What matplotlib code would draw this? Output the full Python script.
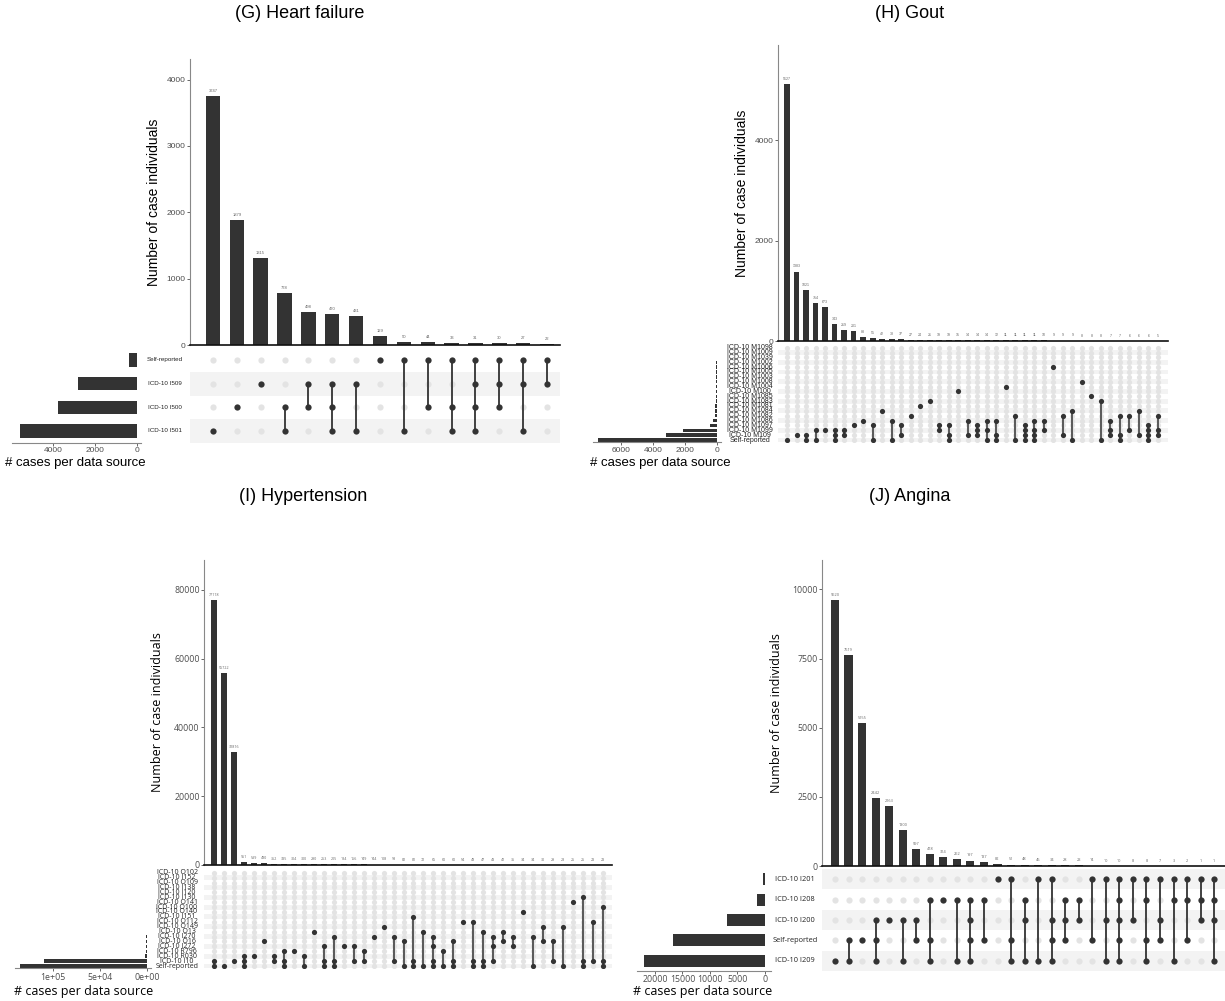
import numpy as np
import matplotlib
matplotlib.use("Agg")
import matplotlib.pyplot as plt

W, H = 1225, 1001

# ---------------- data ----------------
# (G) Heart failure
g_sets = ["ICD-10 I501", "ICD-10 I500", "ICD-10 I509", "Self-reported"]   # bottom -> top
g_set_sizes = [5570, 3760, 2820, 370]
g_counts = [3747, 1879, 1315, 778, 498, 470, 431, 129, 50, 44, 33, 31, 30, 27, 22]
g_members = [[0], [1], [2], [0, 1], [1, 2], [0, 1, 2], [0, 2], [3], [0, 3], [1, 3],
             [0, 1, 3], [0, 1, 2, 3], [1, 2, 3], [0, 2, 3], [2, 3]]

# (H) Gout
h_sets = ["Self-reported", "ICD-10 M109", "ICD-10 M1099", "ICD-10 M1097", "ICD-10 M1086",
          "ICD-10 M1082", "ICD-10 M1084", "ICD-10 M1081", "ICD-10 M1083", "ICD-10 M1085",
          "ICD-10 M100", "ICD-10 M1004", "ICD-10 M1008", "ICD-10 M1003", "ICD-10 M1005",
          "ICD-10 M1006", "ICD-10 M1002", "ICD-10 M1039", "ICD-10 M1009", "ICD-10 M1098"]
h_set_sizes = [7450, 3200, 2100, 420, 250, 120, 105, 95, 85, 75,
               68, 60, 55, 50, 45, 40, 35, 30, 28, 25]
h_counts = [5127, 1383, 1021, 754, 673, 343, 219, 201, 83, 55, 42, 38, 37, 27, 24, 21, 19, 19,
            15, 14, 14, 14, 12, 11, 11, 11, 11, 10, 9, 9, 9, 8, 8, 8, 7, 7, 6, 6, 6, 5]
h_members = [[0], [1], [0, 1], [0, 2], [2], [0, 1, 2], [1, 2], [3], [4], [0, 3],
             [6], [0, 4], [1, 3], [5], [7], [8], [2, 3], [0, 1, 3], [10], [1, 4],
             [1, 2, 3], [0, 2, 4], [0, 1, 4], [11], [0, 5], [0, 1, 2, 3], [0, 1, 2, 4], [2, 4], [15], [1, 5],
             [0, 6], [12], [9], [0, 8], [1, 2, 4], [0, 1, 5], [2, 5], [1, 6], [0, 1, 2, 3], [1, 2, 5]]

# (I) Hypertension
i_sets = ["Self-reported", "ICD-10 I10", "ICD-10 R030", "ICD-10 R796", "ICD-10 I272",
          "ICD-10 O16", "ICD-10 I270", "ICD-10 O13", "ICD-10 O149", "ICD-10 O112",
          "ICD-10 I151", "ICD-10 O140", "ICD-10 O100", "ICD-10 O141", "ICD-10 I130",
          "ICD-10 I120", "ICD-10 I138", "ICD-10 O109", "ICD-10 I152", "ICD-10 O102"]
i_set_sizes = [135500, 110000, 2150, 860, 760, 740, 640, 470, 180, 140,
               95, 60, 50, 45, 40, 35, 30, 28, 25, 22]
i_counts = [77118, 55722, 32816, 951, 539, 480, 352, 335, 304, 300, 290, 253, 205, 184, 156,
            149, 144, 108, 98, 82, 81, 72, 65, 60, 60, 54, 48, 47, 43, 42, 35, 34, 34, 30,
            29, 28, 25, 25, 23, 23]
i_members = [[0, 1], [0], [1], [0, 1, 2], [2], [5], [1, 2], [0, 1, 3], [3], [0, 2],
             [7], [0, 1, 4], [0, 1, 6], [4], [1, 4], [1, 3], [6], [8], [1, 6], [0, 5],
             [0, 1, 10], [0, 7], [0, 1, 4, 6], [0, 3], [0, 1, 5], [9], [0, 1, 9], [0, 1, 7], [1, 4, 6], [5, 7],
             [4, 6], [11], [0, 6], [5, 8], [1, 5], [0, 8], [13], [0, 1, 14], [1, 9], [0, 1, 12]]

# (J) Angina
j_sets = ["ICD-10 I209", "Self-reported", "ICD-10 I200", "ICD-10 I208", "ICD-10 I201"]
j_set_sizes = [22070, 16720, 6870, 1450, 280]
j_counts = [9620, 7619, 5155, 2442, 2163, 1300, 597, 418, 314, 262, 197, 137, 82, 51, 48,
            45, 34, 28, 23, 14, 10, 10, 8, 8, 7, 3, 2, 1, 1]
j_members = [[0], [0, 1], [1], [0, 1, 2], [2], [0, 2], [1, 2], [0, 1, 3], [3], [0, 3],
             [0, 1, 2, 3], [1, 3], [4], [0, 1, 4], [0, 2, 3], [0, 4], [0, 1, 2, 4], [1, 2, 3], [2, 3], [1, 4],
             [0, 2, 4], [0, 1, 2, 3, 4], [2, 4], [0, 1, 3, 4], [1, 2, 4], [0, 3, 4], [1, 3, 4], [2, 3, 4],
             [0, 2, 3, 4]]

DARK = "#333333"
EMPTY = "#e3e3e3"
STRIPE = "#f3f3f3"
TICK = "#4d4d4d"


def box(l, t, r, b):
    return [l / W, 1 - b / H, (r - l) / W, (b - t) / H]


def draw_upset(fig, sets, set_sizes, counts, members, p):
    font = p["font"]
    n = len(counts)
    m = len(sets)
    x = np.arange(n)

    # intersection bars
    axb = fig.add_axes(box(p["l"], p["bt"], p["r"], p["b0"]))
    axb.bar(x, counts, width=0.6, color=DARK)
    axb.set_xlim(p["xl"], p["xr"])
    axb.set_ylim(0, max(counts) * 1.15)
    axb.set_yticks(p["yticks"])
    axb.set_yticklabels([str(v) for v in p["yticks"]], fontsize=p["tfs"], color=TICK, family=font)
    axb.tick_params(axis="y", length=2, width=0.6, color=TICK, pad=1)
    axb.set_xticks([])
    for s in ["top", "right"]:
        axb.spines[s].set_visible(False)
    axb.spines["left"].set_color("#888888")
    axb.spines["left"].set_linewidth(0.8)
    axb.spines["bottom"].set_color("#111111")
    axb.spines["bottom"].set_linewidth(1.2)
    axb.set_ylabel("Number of case individuals", fontsize=p["lfs"], family=font, labelpad=p["lpad"])
    off = max(counts) * 0.012
    for xi, c in zip(x, counts):
        axb.text(xi, c + off, str(c), ha="center", va="bottom", fontsize=p["cfs"], color="#666666", family=font)

    # matrix
    sp = (p["rb"] - p["rt"]) / (m - 1)
    mt, mb = p["rt"] - sp / 2, p["rb"] + sp / 2
    axm = fig.add_axes(box(p["l"], mt, p["r"], mb))
    axm.set_xlim(p["xl"], p["xr"])
    axm.set_ylim(-0.5, m - 0.5)
    for k in range(0, m, 2):
        axm.axhspan(k - 0.5, k + 0.5, color=STRIPE, lw=0, zorder=0)
    gx, gy = np.meshgrid(x, np.arange(m))
    axm.scatter(gx.ravel(), gy.ravel(), s=p["ds"], color=EMPTY, lw=0, zorder=1)
    for xi, mem in zip(x, members):
        if len(mem) > 1:
            axm.plot([xi, xi], [min(mem), max(mem)], color=DARK, lw=p["lw"], zorder=2)
        axm.scatter([xi] * len(mem), mem, s=p["ds"], color=DARK, lw=0, zorder=3)
    axm.axis("off")

    # set sizes
    axs = fig.add_axes(box(p["sl"], mt, p["sr"], mb))
    axs.barh(np.arange(m), set_sizes, height=p["sh"], color=DARK)
    axs.set_ylim(-0.5, m - 0.5)
    axs.set_xlim(p["sxl"], p["sxr"])
    axs.set_xticks(p["sticks"])
    axs.set_xticklabels(p["slabels"], fontsize=p["tfs"], color=TICK, family=font)
    axs.tick_params(axis="x", length=2, width=0.6, color=TICK, pad=1)
    axs.set_yticks([])
    for s in ["top", "right", "left"]:
        axs.spines[s].set_visible(False)
    axs.spines["bottom"].set_color("#888888")
    axs.spines["bottom"].set_linewidth(0.8)
    axs.patch.set_alpha(0)

    for k, name in enumerate(sets):
        yk = p["rb"] - k * sp
        fig.text(p["nx"] / W, 1 - yk / H, name, ha="center", va="center",
                 fontsize=p["nfs"], family=font, color="#222222")
    fig.text(p["cx"] / W, 1 - p["cy"] / H, "# cases per data source", ha="left", va="center",
             fontsize=p["xfs"], family=font)
    fig.text(p["tx"] / W, 1 - p["ty"] / H, p["title"], ha="center", va="center",
             fontsize=13, family="Liberation Sans")


fig = plt.figure(figsize=(W / 100, H / 100), dpi=100)

draw_upset(fig, g_sets, g_set_sizes, g_counts, g_members, dict(
    font="Liberation Sans", title="(G) Heart failure", tx=300, ty=14,
    l=190, r=560, bt=59, b0=345, xl=-0.96, xr=14.54,
    yticks=[0, 1000, 2000, 3000, 4000], tfs=6, lfs=10, lpad=4, cfs=3,
    rt=360, rb=431, ds=20, lw=1.3,
    sl=12, sr=141, sxl=5950, sxr=-190, sh=0.55,
    sticks=[4000, 2000, 0], slabels=["4000", "2000", "0"],
    nx=165, nfs=4.5, cx=5, cy=463, xfs=9.5))

draw_upset(fig, h_sets, h_set_sizes, h_counts, h_members, dict(
    font="Liberation Sans", title="(H) Gout", tx=910, ty=14,
    l=778, r=1168, bt=45, b0=341, xl=-0.95, xr=40.05,
    yticks=[0, 2000, 4000], tfs=6, lfs=10, lpad=4, cfs=2.6,
    rt=347.7, rb=440, ds=14, lw=1.1,
    sl=593, sr=721, sxl=7750, sxr=-250, sh=0.7,
    sticks=[6000, 4000, 2000, 0], slabels=["6000", "4000", "2000", "0"],
    nx=750, nfs=5, cx=590, cy=463, xfs=9.5))

draw_upset(fig, i_sets, i_set_sizes, i_counts, i_members, dict(
    font="Open Sans", title="(I) Hypertension", tx=303, ty=497,
    l=204, r=612, bt=560, b0=865, xl=-1.0, xr=39.9,
    yticks=[0, 20000, 40000, 60000, 80000], tfs=6.3, lfs=9, lpad=7, cfs=2.6,
    rt=872.7, rb=966, ds=14, lw=1.1,
    sl=15, sr=151, sxl=140400, sxr=-4260, sh=0.7,
    sticks=[100000, 50000, 0], slabels=["1e+05", "5e+04", "0e+00"],
    nx=177, nfs=5, cx=14, cy=991, xfs=9))

draw_upset(fig, j_sets, j_set_sizes, j_counts, j_members, dict(
    font="Open Sans", title="(J) Angina", tx=910, ty=497,
    l=822, r=1225, bt=560, b0=866, xl=-0.96, xr=28.8,
    yticks=[0, 2500, 5000, 7500, 10000], tfs=6.3, lfs=9, lpad=7, cfs=2.8,
    rt=879.3, rb=960.7, ds=20, lw=1.3,
    sl=637, sr=771, sxl=23300, sxr=-1150, sh=0.6,
    sticks=[20000, 15000, 10000, 5000, 0], slabels=["20000", "15000", "10000", "5000", "0"],
    nx=795, nfs=5.3, cx=633, cy=992, xfs=9))

fig.savefig("out.png", dpi=100)
